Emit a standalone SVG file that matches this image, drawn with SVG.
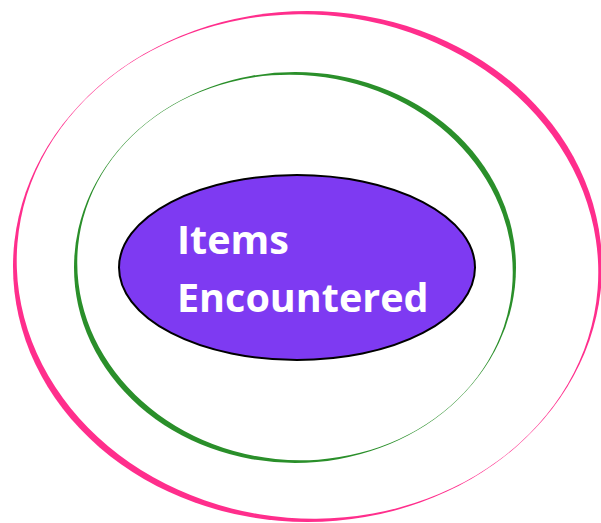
<svg xmlns="http://www.w3.org/2000/svg" width="601" height="523" viewBox="0 0 601 523">
  <style>
    .pink { fill: #ff2e8c; }
    .green { fill: #2a8f2a; }
    .hole { fill: #ffffff; }
    .core { fill: #7e3af2; stroke: #000000; stroke-width: 2; }
    .label { font-family: "Open Sans", "Liberation Sans", sans-serif; font-weight: bold; font-size: 39.5px; fill: #ffffff; }
  </style>
  <rect x="0" y="0" width="601" height="523" fill="#ffffff"/>
  <g id="outer-ring">
    <ellipse class="pink" cx="307.5" cy="266.5" rx="294.5" ry="255.5"/>
    <ellipse class="hole" cx="307.5" cy="266.5" rx="291" ry="252" transform="rotate(4.5 307.5 266.5)"/>
  </g>
  <g id="middle-ring">
    <ellipse class="green" cx="295" cy="267.5" rx="221" ry="195.5"/>
    <ellipse class="hole" cx="295" cy="267.5" rx="218" ry="192.5" transform="rotate(5.8 295 267.5)"/>
  </g>
  <g id="items-encountered">
    <ellipse class="core" cx="297" cy="267.5" rx="178" ry="92.5"/>
    <text class="label" x="177" y="254">Items</text>
    <text class="label" x="177" y="312">Encountered</text>
  </g>
  <g id="connectors"/>
</svg>
